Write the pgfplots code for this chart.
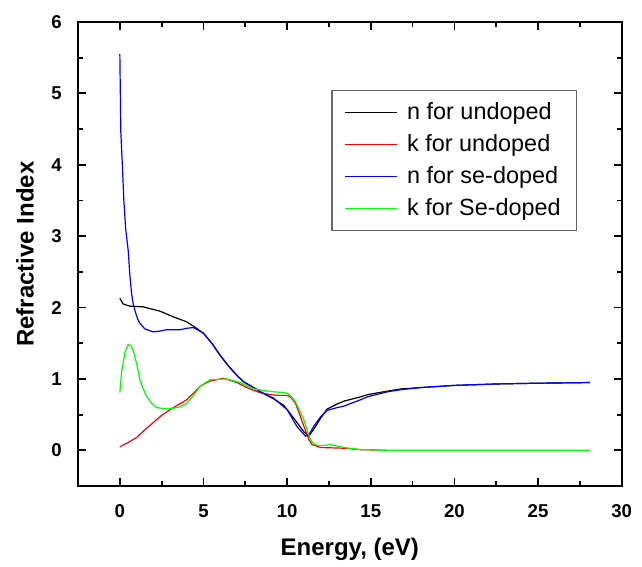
\documentclass[border=0pt]{standalone}
\usepackage{fontspec}
\setmainfont{Liberation Sans}
\usepackage{pgfplots}
\pgfplotsset{compat=1.18}
\definecolor{ngreen}{RGB}{0,255,0}

\begin{document}
\begin{tikzpicture}
\begin{axis}[
  scale only axis,
  width=271.8pt, height=232pt,
  xmin=-2.5, xmax=30, ymin=-0.5, ymax=6,
  xtick={0,5,...,30}, ytick={0,1,...,6},
  minor x tick num=1, minor y tick num=1,
  axis line style={line width=1pt},
  tick style={draw=black, line width=0.9pt},
  tick align=inside,
  major tick length=4pt, minor tick length=2.5pt,
  /pgf/number format/assume math mode=true,
  ticklabel style={font=\fontsize{9.3}{11}\selectfont\bfseries},
  yticklabel style={inner sep=0pt, xshift=-8pt},
  xticklabel style={inner sep=0pt, yshift=-9pt},
  xlabel={Energy, (eV)}, ylabel={Refractive Index},
  label style={font=\fontsize{12}{14}\selectfont\bfseries},
  xlabel style={at={(axis description cs:0.5,0)}, anchor=base, yshift=-34.5pt},
  ylabel style={at={(axis description cs:-0.0975,0.5)}, anchor=center},
  legend style={at={(0.466,0.853)}, anchor=north west, draw=black!60, line width=0.6pt,
    font=\fontsize{11.7}{14}\selectfont, inner xsep=6pt, inner ysep=4pt,
    row sep=2pt, /tikz/every odd column/.style={column sep=3pt}},
  legend cell align=left,
  legend image code/.code={\draw[#1] (0pt,0pt) -- (26pt,0pt);},
  every axis plot/.append style={line width=0.6pt},
]
\addplot[black] coordinates {
(0,2.13) (0.2,2.05) (0.6,2.02) (1.4,2.01) (2.4,1.95) (3.2,1.87) (4.0,1.80)
(4.4,1.74) (5.0,1.64) (5.5,1.50) (6.0,1.33) (6.5,1.18) (7.0,1.05) (7.4,0.96)
(8.0,0.88) (8.4,0.82) (9.2,0.72) (9.8,0.63) (10.4,0.45) (11.0,0.26) (11.3,0.20)
(11.6,0.30) (12.0,0.45) (12.4,0.58) (13.0,0.65) (13.4,0.69) (14.4,0.75)
(14.8,0.78) (16,0.83) (16.8,0.86) (18,0.88) (20,0.91) (22.5,0.93) (24.8,0.94)
(28.1,0.95)};
\addlegendentry{n for undoped}
\addplot[red] coordinates {
(0,0.05) (0.5,0.11) (1.0,0.18) (1.5,0.29) (2.0,0.39) (2.5,0.49) (3.0,0.57)
(3.5,0.64) (4.0,0.71) (4.4,0.80) (4.8,0.90) (5.4,0.97) (6.2,1.01) (7.0,0.95)
(7.5,0.89) (8.0,0.84) (8.5,0.80) (9.0,0.78) (9.5,0.77) (10.0,0.77) (10.2,0.75)
(10.5,0.66) (10.8,0.47) (11.0,0.34) (11.3,0.15) (11.5,0.08) (12.0,0.04)
(13.4,0.03) (14.4,0.01) (16,0.0) (20,0.0) (24,0.0) (28.1,0.0)};
\addlegendentry{k for undoped}
\addplot[blue] coordinates {
(0,5.55) (0.03,5.0) (0.06,4.45) (0.15,4.0) (0.24,3.5) (0.35,3.1) (0.5,2.8)
(0.6,2.45) (0.7,2.2) (0.8,2.05) (0.9,1.96) (1.05,1.85) (1.2,1.78) (1.5,1.70)
(2.0,1.66) (2.4,1.67) (2.8,1.69) (3.6,1.69) (4.0,1.71) (4.4,1.72) (5.0,1.64)
(5.5,1.50) (6.0,1.33) (6.5,1.18) (7.0,1.05) (7.4,0.96) (8.0,0.88) (8.4,0.82)
(9.2,0.73) (10.0,0.57) (10.6,0.33) (11.1,0.20) (11.3,0.22) (11.6,0.34)
(12.0,0.47) (12.4,0.56) (13.0,0.60) (13.4,0.62) (14.4,0.71) (14.8,0.75)
(16,0.82) (16.8,0.85) (18,0.88) (20,0.91) (22.5,0.93) (24.8,0.94) (28.1,0.95)};
\addlegendentry{n for se-doped}
\addplot[ngreen] coordinates {
(0,0.81) (0.1,1.09) (0.3,1.37) (0.5,1.48) (0.65,1.47) (0.8,1.40) (1.0,1.22)
(1.2,0.99) (1.4,0.86) (1.6,0.76) (1.9,0.66) (2.2,0.60) (2.8,0.58) (3.2,0.59)
(3.6,0.61) (4.0,0.66) (4.2,0.71) (4.5,0.80) (4.8,0.90) (5.4,0.99) (6.4,1.00)
(7.2,0.95) (8.0,0.86) (8.6,0.84) (9.2,0.82) (9.8,0.81) (10.0,0.80) (10.2,0.77)
(10.5,0.68) (10.8,0.53) (11.0,0.43) (11.2,0.28) (11.4,0.15) (11.6,0.09)
(11.8,0.07) (12.2,0.07) (12.6,0.08) (13.0,0.06) (13.4,0.04) (14.4,0.01)
(16,0.0) (28.1,0.0)};
\addlegendentry{k for Se-doped}
\coordinate (bl) at (rel axis cs:0,0);
\coordinate (tr) at (rel axis cs:1,1);
\end{axis}
\path ([xshift=-39pt,yshift=-37.5pt]bl) rectangle ([xshift=10.15pt,yshift=11pt]tr);
\end{tikzpicture}
\end{document}
